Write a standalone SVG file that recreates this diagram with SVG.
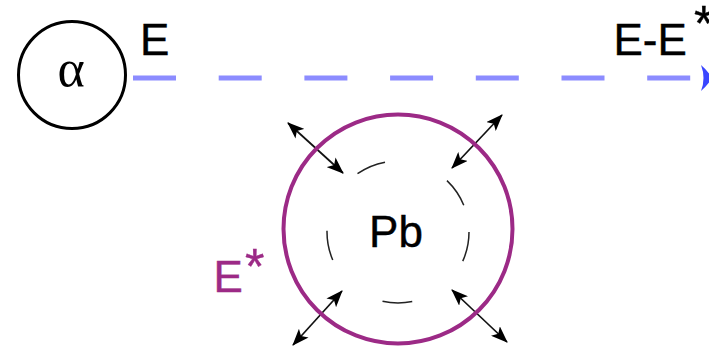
<svg xmlns="http://www.w3.org/2000/svg" width="709" height="348" viewBox="0 0 709 348">
  <style>
    .lbl { font-family: "Liberation Sans", Arial, sans-serif; font-size: 44px; fill: #000; stroke: #000; stroke-width: 0.4; }
    .purple { fill: #9c2a86; stroke: #9c2a86; }
    .ast { font-size: 50px; }
    .dbl { stroke: #111; stroke-width: 1.7; fill: none; marker-start: url(#ah); marker-end: url(#ah); }
  </style>
  <defs>
    <marker id="ah" viewBox="0 0 17 13" refX="16" refY="6.5" markerWidth="17" markerHeight="13" markerUnits="userSpaceOnUse" orient="auto-start-reverse">
      <path d="M0,0 L17,6.5 L0,13 L4,6.5 Z" fill="#000"/>
    </marker>
  </defs>
  <rect width="709" height="348" fill="#fff"/>

  <g id="alpha">
    <circle cx="72" cy="75" r="53.5" fill="none" stroke="#000" stroke-width="3"/>
    <text x="71" y="86" text-anchor="middle" font-family="Liberation Serif, Times New Roman, serif" font-size="52" fill="#000">α</text>
  </g>

  <g id="connectors">
    <line x1="133" y1="78" x2="691" y2="78" stroke="#8c8cff" stroke-width="5" stroke-dasharray="43 42.7"/>
    <path d="M701,65 Q708,71 712,78 Q708,85 701,91 Q706,78 701,65 Z" fill="#3a46ff"/>
    <line class="dbl" x1="288" y1="123" x2="343" y2="173"/>
    <line class="dbl" x1="502" y1="115" x2="452" y2="168"/>
    <line class="dbl" x1="342" y1="291" x2="293" y2="345"/>
    <line class="dbl" x1="452" y1="290" x2="507" y2="342"/>
  </g>

  <g id="label-E">
    <text class="lbl" x="140" y="55">E</text>
  </g>
  <g id="label-EE">
    <text class="lbl" x="613.5" y="55">E-E<tspan class="ast" x="694" y="41">*</tspan></text>
  </g>

  <g id="pb">
    <circle cx="398" cy="229" r="114.5" fill="none" stroke="#9c2a86" stroke-width="4"/>
    <circle cx="398" cy="232" r="71" fill="none" stroke="#222" stroke-width="1.5" stroke-dasharray="30 67"/>
    <text class="lbl" x="396" y="247" text-anchor="middle">Pb</text>
  </g>

  <g id="label-Estar">
    <text class="lbl purple" x="213.5" y="292">E<tspan class="ast" x="245" y="284">*</tspan></text>
  </g>
</svg>
